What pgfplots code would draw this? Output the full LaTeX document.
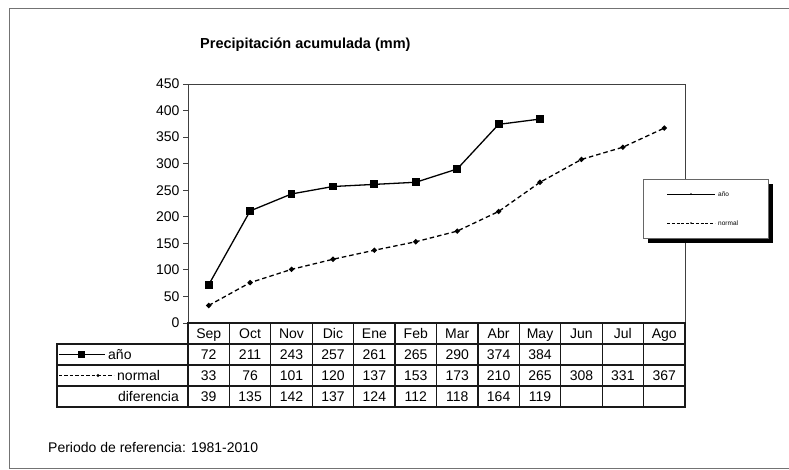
\documentclass[border=0pt]{standalone}
\usepackage{fontspec}
\setmainfont{Liberation Sans}
\usepackage{pgfplots}
\usepackage{pgfplotstable}
\pgfplotsset{compat=1.18}

\pgfplotstableread{
x ano
0 72
1 211
2 243
3 257
4 261
5 265
6 290
7 374
8 384
}\anodata

\pgfplotstableread{
x normal
0 33
1 76
2 101
3 120
4 137
5 153
6 173
7 210
8 265
9 308
10 331
11 367
}\normaldata

\newcommand{\tabfont}{\fontsize{14}{16}\selectfont}

\begin{document}
\begin{tikzpicture}[x=1pt,y=1pt]
\useasboundingbox (-188,-146) rectangle (601,323);
\fill[white] (-188,-146) rectangle (601,323);
\draw[black!55, line width=1pt] (602,314) -- (-178,314) -- (-178,-145) -- (602,-145);

\begin{axis}[
    at={(0,0)}, anchor=south west,
    scale only axis,
    width=497pt, height=239pt,
    xmin=-0.5, xmax=11.5,
    ymin=0, ymax=450,
    ytick={0,50,...,450},
    xtick=\empty,
    ytick pos=left,
    tick align=outside,
    major tick length=5pt,
    axis line style={black!75, line width=1pt},
    tick style={black!75, line width=0.8pt},
    yticklabel style={font=\tabfont},
    /pgf/number format/assume math mode=true,
    clip=false,
]
\addplot[black, line width=1.3pt, mark=square*, mark size=3.3pt,
         mark options={solid}] table[x=x, y=ano] {\anodata};
\addplot[black, line width=1.3pt, dash pattern=on 4.5pt off 3pt,
         mark=*, mark size=1.9pt, mark options={solid}] table[x=x, y=normal] {\normaldata};
\end{axis}

% legend box with shadow
\fill[black] (460,80) rectangle (585,139);
\filldraw[fill=white, draw=black!60, line width=0.8pt] (455,85) rectangle (580,144);
\draw[black, line width=1pt] (479,129) -- (527,129);
\fill[black] (503,129) circle (0.9pt);
\node[anchor=west, font=\fontsize{6.5}{7}\selectfont, inner sep=0pt] at (530,129) {año};
\draw[black, line width=1pt, dash pattern=on 3pt off 1.8pt] (479,100) -- (527,100);
\fill[black] (503,100) circle (0.9pt);
\node[anchor=west, font=\fontsize{6.5}{7}\selectfont, inner sep=0pt] at (530,100) {normal};

% title and footnote
\node[anchor=west, inner sep=0pt, font=\fontsize{14.5}{16}\selectfont\bfseries] at (12,278) {Precipitación acumulada (mm)};
\node[anchor=west, inner sep=0pt, font=\tabfont] at (-140,-124) {Periodo de referencia: 1981-2010};

% data table
\def\cw{41.4167}
\begin{scope}[line width=1.2pt, draw=black!90]
  \draw (0,0) rectangle (497,-84);
  \draw (-131,-21) rectangle (0,-84);
  \foreach \r in {-21,-42,-63} \draw (-131,\r) -- (497,\r);
  \foreach \i in {1,...,11} \draw (\i*\cw,0) -- (\i*\cw,-84);
\end{scope}

\tikzset{cell/.style={font=\tabfont, anchor=base, inner sep=0pt}}
\foreach \m [count=\i from 0] in {Sep,Oct,Nov,Dic,Ene,Feb,Mar,Abr,May,Jun,Jul,Ago}
  \node[cell] at ({(\i+0.5)*\cw},-15.5) {\m};
\foreach \v [count=\i from 0] in {72,211,243,257,261,265,290,374,384}
  \node[cell] at ({(\i+0.5)*\cw},-36.5) {\v};
\foreach \v [count=\i from 0] in {33,76,101,120,137,153,173,210,265,308,331,367}
  \node[cell] at ({(\i+0.5)*\cw},-57.5) {\v};
\foreach \v [count=\i from 0] in {39,135,142,137,124,112,118,164,119}
  \node[cell] at ({(\i+0.5)*\cw},-78.5) {\v};

% row keys
\draw[black, line width=1.1pt] (-129,-31.5) -- (-83,-31.5);
\fill[black] (-109.5,-35) rectangle (-102.5,-28);
\node[cell, anchor=base west] at (-80,-36.5) {año};
\draw[black, line width=1.1pt, dash pattern=on 3.5pt off 2pt] (-129,-52.5) -- (-74,-52.5);
\fill[black] (-90,-52.5) circle (1.6pt);
\node[cell, anchor=base west] at (-71,-57.5) {normal};
\node[cell, anchor=base east] at (-9,-78.5) {diferencia};
\end{tikzpicture}
\end{document}
